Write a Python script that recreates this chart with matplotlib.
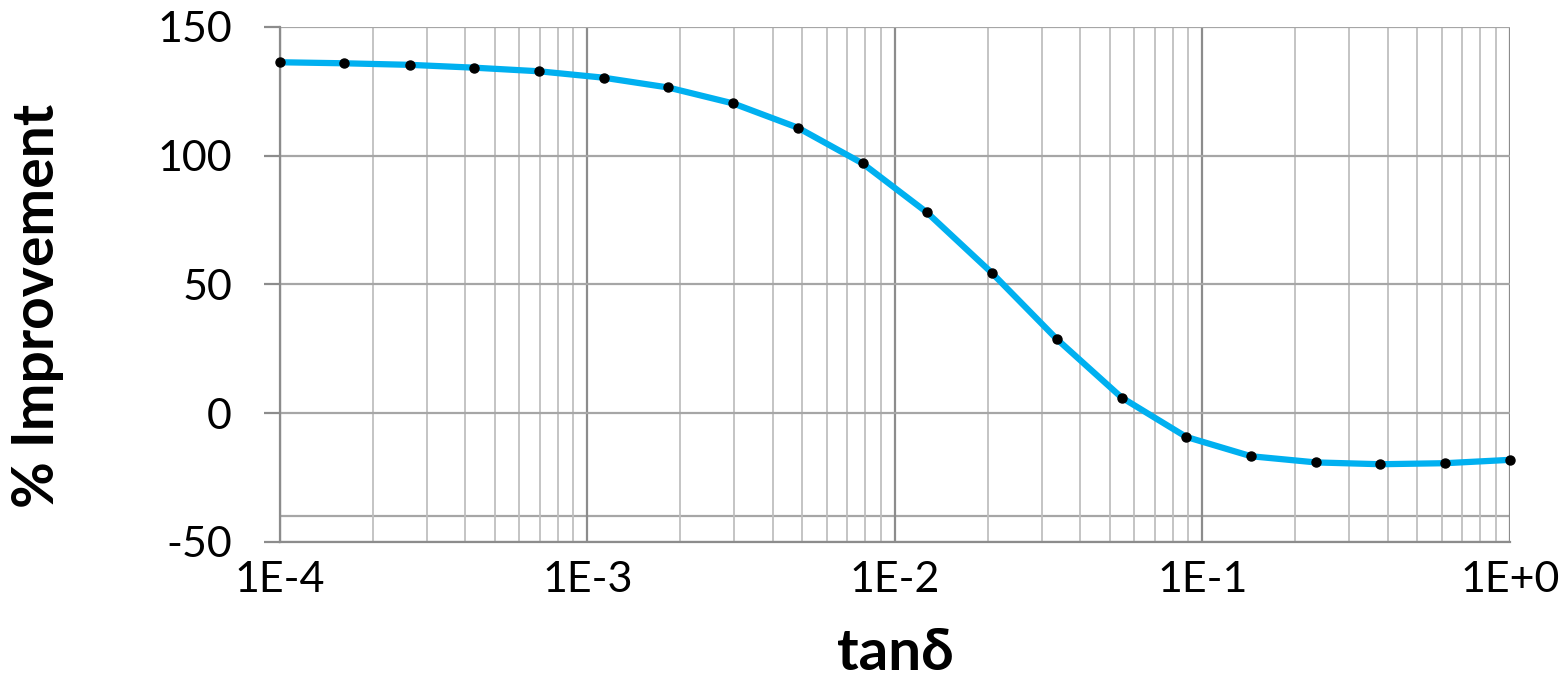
import matplotlib
matplotlib.use('Agg')
import matplotlib.pyplot as plt
from matplotlib.ticker import LogLocator, FixedLocator, FuncFormatter

plt.rcParams['font.family'] = ['Lato', 'DejaVu Sans']
plt.rcParams['axes.unicode_minus'] = False

# tan(delta) sample points and % improvement
tan_delta = [1.0e-4, 1.62e-4, 2.64e-4, 4.28e-4, 6.95e-4, 1.13e-3, 1.83e-3,
             2.98e-3, 4.83e-3, 7.85e-3, 1.27e-2, 2.07e-2, 3.36e-2, 5.46e-2,
             8.86e-2, 1.44e-1, 2.34e-1, 3.79e-1, 6.16e-1, 1.0]
improvement = [136.3, 135.9, 135.3, 134.2, 132.8, 130.3, 126.5, 120.3,
               110.9, 97.0, 78.0, 54.4, 28.8, 6.1, -9.2, -16.7, -19.1,
               -19.8, -19.4, -18.1]

x_ticks = [1e-4, 1e-3, 1e-2, 1e-1, 1e0]
x_tick_labels = ['1E-4', '1E-3', '1E-2', '1E-1', '1E+0']
y_ticks = [-50, 0, 50, 100, 150]
extra_hgrid = [-40]

fig = plt.figure(figsize=(15.66, 6.78), dpi=100)
ax = fig.add_axes([0.1788, 0.2006, 0.7854, 0.7596])

ax.set_xscale('log')
ax.set_xlim(1e-4, 1.0)
ax.set_ylim(-50, 150)

ax.xaxis.set_major_locator(FixedLocator(x_ticks))
ax.xaxis.set_major_formatter(FuncFormatter(
    lambda v, p: x_tick_labels[x_ticks.index(min(x_ticks, key=lambda t: abs(t - v)))]))
ax.xaxis.set_minor_locator(LogLocator(base=10, subs=range(2, 10)))
ax.xaxis.set_minor_formatter(FuncFormatter(lambda v, p: ''))
ax.yaxis.set_major_locator(FixedLocator(y_ticks))

ax.grid(which='major', axis='x', color='#8c8c8c', lw=1.6)
ax.grid(which='minor', axis='x', color='#bfbfbf', lw=1.3)
ax.grid(which='major', axis='y', color='#a6a6a6', lw=1.6)
for yv in extra_hgrid:
    ax.axhline(yv, color='#a6a6a6', lw=1.6, zorder=0.5)
ax.set_axisbelow(True)

for s in ['top', 'right']:
    ax.spines[s].set_visible(False)
for s in ['left', 'bottom']:
    ax.spines[s].set_color('#8c8c8c')
    ax.spines[s].set_linewidth(1.6)

ax.tick_params(axis='x', which='both', length=0)
ax.tick_params(axis='x', labelsize=31, pad=14)
# y ticks: gridlines poke out past the axis in the reference
ax.tick_params(axis='y', direction='out', length=11.5, width=1.6,
               color='#8c8c8c', labelsize=31, pad=23)

ax.plot(tan_delta, improvement, color='#00b0f0', lw=4.5, zorder=3,
        clip_on=False, solid_capstyle='round')
ax.plot(tan_delta, improvement, ls='', marker='o', markersize=6.5,
        color='black', zorder=4, clip_on=False)

ax.set_ylabel('% Improvement', fontsize=41, fontweight='bold')
ax.yaxis.set_label_coords(-0.176, 0.458)
ax.set_xlabel('tanδ', fontsize=42, fontweight='bold')
ax.xaxis.set_label_coords(0.5, -0.165)

fig.savefig('out.png', dpi=100)
